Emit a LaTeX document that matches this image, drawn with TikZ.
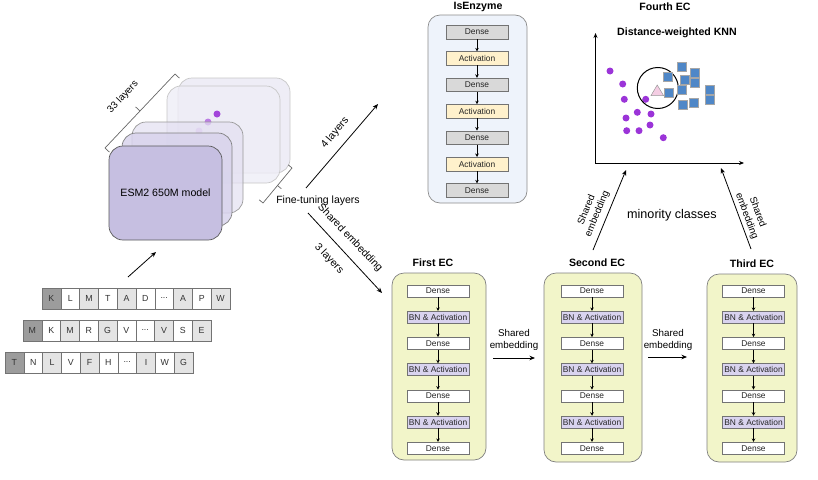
\documentclass[tikz,border=0pt]{standalone}
\usepackage{fontspec}
\setmainfont{Liberation Sans}
\usetikzlibrary{arrows.meta,calc}
\definecolor{cd}{HTML}{9C9C9C}
\definecolor{cw}{HTML}{FFFFFF}
\definecolor{cg}{HTML}{E4E4E4}
\definecolor{dns}{HTML}{D9D9D9}
\definecolor{act}{HTML}{FFF1CC}
\definecolor{bn}{HTML}{D9D3EF}
\definecolor{ecfill}{HTML}{F2F5C9}
\definecolor{iefill}{HTML}{EEF3FB}
\definecolor{dotc}{HTML}{9B34D8}
\definecolor{sqc}{HTML}{4F87C7}
\definecolor{triC}{HTML}{F4CDE3}
\definecolor{stk1}{HTML}{C6BFE1}
\definecolor{stk2}{HTML}{D8D3EC}
\definecolor{stk3}{HTML}{E3DFF1}
\definecolor{stkb}{HTML}{EEEDF6}
\begin{document}
\begin{tikzpicture}[x=1pt,y=-1pt,
  lbl/.style={font=\fontsize{10.5}{12}\selectfont, inner sep=0pt},
  slbl/.style={font=\fontsize{9.8}{11.5}\selectfont, inner sep=0pt},
  ttl/.style={font=\fontsize{10.6}{12}\selectfont\bfseries, inner sep=0pt},
  cell/.style={draw=black!55, line width=0.6pt, minimum width=18.8pt, minimum height=21pt, inner sep=0pt, font=\fontsize{8.8}{10}\selectfont, text=black!80},
  ibox/.style={draw=black!55, line width=0.5pt, minimum width=62pt, minimum height=12pt, inner sep=0pt, font=\fontsize{8.4}{9}\selectfont, text=black!85},
  iebox/.style={ibox, minimum height=13.5pt},
  iarr/.style={-{Stealth[length=3.5pt,width=3.5pt]}, line width=0.6pt},
  arr/.style={-{Stealth[length=5.5pt,width=4.5pt]}, line width=0.8pt},
  ecbox/.style={draw=black!50, line width=0.7pt, fill=ecfill, rounded corners=12pt, inner sep=0pt},
  stk/.style={rounded corners=14pt, line width=0.7pt, inner sep=0pt},
  brk/.style={line width=0.7pt, black!60},
  dot/.style={circle, fill=dotc, minimum size=7pt, inner sep=0pt},
  sq/.style={draw=black!35, fill=sqc, minimum size=9pt, inner sep=0pt, line width=0.4pt}
]
\useasboundingbox (0,0) rectangle (818,479);

% ---------- ESM2 stack ----------
\node[stk, draw=black!22, fill=stkb, minimum width=112pt, minimum height=95pt] (b1) at (234,125.5) {};
\node[stk, draw=black!22, fill=stkb, fill opacity=0.8, minimum width=113pt, minimum height=97pt] (b2) at (223.5,134.5) {};
\node[dot, opacity=0.9] (d1) at (217,114) {};
\node[dot, opacity=0.6] (d2) at (208,122) {};
\node[dot, opacity=0.25] (d3) at (199,131) {};
\node[stk, draw=black!40, fill=stk3, fill opacity=0.7, minimum width=111pt, minimum height=91pt] (l3) at (187.5,167.5) {};
\node[stk, draw=black!50, fill=stk2, fill opacity=0.85, minimum width=110pt, minimum height=93pt] (l2) at (177,179.5) {};
\node[stk, draw=black!65, fill=stk1, minimum width=113pt, minimum height=94pt, font=\fontsize{10.6}{12}\selectfont] (l1) at (165.5,193) {ESM2 650M model};

% 33 layers bracket
\coordinate (ba) at (105,148);
\coordinate (bb) at (175,74);
\coordinate (bm) at (140,111);
\draw[brk] ($(ba)+(4.4,4.1)$) -- (ba) -- (bb) -- ($(bb)+(4.4,4.1)$);
\draw[brk] (bm) -- ($(bm)+(-4.4,-4.1)$);
\node[slbl, rotate=46.6] (l33) at (123,97) {33 layers};

% fine-tuning bracket
\coordinate (fa) at (263,203);
\coordinate (fb) at (292,168);
\coordinate (fm) at (277.5,185.5);
\draw[brk] ($(fa)+(-3.8,-3.2)$) -- (fa) -- (fb) -- ($(fb)+(-3.8,-3.2)$);
\draw[brk] (fm) -- ($(fm)+(3.8,3.2)$);
\node[lbl] (ft) at (318,201) {Fine-tuning layers};

% arrows to heads
\coordinate (a4s) at (306,188);
\coordinate (a4e) at (378,104);
\draw[arr] (a4s) -- (a4e);
\node[lbl, rotate=50] (l4) at (335,133) {4 layers};
\coordinate (a3s) at (308,213);
\coordinate (a3e) at (382,293);
\draw[arr] (a3s) -- (a3e);
\node[lbl, rotate=-46.5] (lse) at (350,238) {Shared embedding};
\node[lbl, rotate=-46.5] (l3l) at (329,259) {3 layers};

% ---------- sequences ----------
\foreach \l/\s [count=\i from 0] in {K/cd,L/cw,M/cg,T/cw,A/cg,D/cw,{...}/cw,A/cg,P/cw,W/cg}
  \node[cell, fill=\s] (ra\i) at ({51.4+18.8*\i},298.5) {\l};
\foreach \l/\s [count=\i from 0] in {M/cd,K/cw,M/cg,R/cw,G/cg,V/cw,{...}/cw,V/cg,S/cw,E/cg}
  \node[cell, fill=\s] (rb\i) at ({32.4+18.8*\i},330.5) {\l};
\foreach \l/\s [count=\i from 0] in {T/cd,N/cw,L/cg,V/cw,F/cg,H/cw,{...}/cw,I/cg,W/cw,G/cg}
  \node[cell, fill=\s] (rc\i) at ({14.4+18.8*\i},362.5) {\l};
\coordinate (sqs) at (128,277);
\coordinate (sqe) at (156,252);
\draw[arr] (sqs) -- (sqe);

% ---------- IsEnzyme ----------
\node[draw=black!45, line width=0.7pt, fill=iefill, rounded corners=12pt, minimum width=99pt, minimum height=188pt, inner sep=0pt] (ie) at (477.5,109) {};
\node[ttl] (iet) at (478,7) {IsEnzyme};
\foreach \t/\s [count=\i from 0] in {Dense/dns,Activation/act,Dense/dns,Activation/act,Dense/dns,Activation/act,Dense/dns}
  \node[iebox, fill=\s] (ie\i) at (477,{32+26.4*\i}) {\t};
\foreach \i [evaluate=\i as \j using int(\i+1)] in {0,...,5}
  \draw[iarr] (ie\i.south) -- (ie\j.north);

% ---------- EC boxes ----------
\node[ecbox, minimum width=94pt, minimum height=187pt] (ec1) at (439,366.5) {};
\node[ecbox, minimum width=98pt, minimum height=189pt] (ec2) at (593,367.5) {};
\node[ecbox, minimum width=90pt, minimum height=188pt] (ec3) at (752,368) {};
\node[ttl] (ec1t) at (433,263) {First EC};
\node[ttl] (ec2t) at (597,263) {Second EC};
\node[ttl] (ec3t) at (752,264) {Third EC};
\foreach \x/\n in {438/a,592/b,753.5/c}{
  \foreach \t/\s [count=\i from 0] in {Dense/cw,BN \& Activation/bn,Dense/cw,BN \& Activation/bn,Dense/cw,BN \& Activation/bn,Dense/cw}
    \node[ibox, fill=\s] (e\n\i) at (\x,{291+26.2*\i}) {\t};
  \foreach \i [evaluate=\i as \j using int(\i+1)] in {0,...,5}
    \draw[iarr] (e\n\i.south) -- (e\n\j.north);
}

% shared embedding between EC boxes
\node[slbl, align=center] (s12) at (514,340) {Shared\\embedding};
\coordinate (s12a) at (493,358);
\coordinate (s12b) at (535,358);
\draw[arr] (s12a) -- (s12b);
\node[slbl, align=center] (s23) at (668,340) {Shared\\embedding};
\coordinate (s23a) at (648,357);
\coordinate (s23b) at (687,357);
\draw[arr] (s23a) -- (s23b);

% ---------- Fourth EC ----------
\node[ttl] (f4t) at (665,7) {Fourth EC};
\node[ttl] (knnt) at (677,33) {Distance-weighted KNN};
\coordinate (ytop) at (595.5,33);
\coordinate (orig) at (595.5,163);
\coordinate (xend) at (744,163);
\draw[{Stealth[length=5pt,width=4pt]}-{Stealth[length=5pt,width=4pt]}, line width=1pt] (ytop) -- (orig) -- (xend);
\foreach \p [count=\i] in {(610,71),(622.7,84),(624.3,99.3),(645.7,99.3),(626,118),(637.3,112.3),(651,114),(626.7,130.7),(639,130.7),(650,125),(663.3,137.7)}
  \node[dot] (pd\i) at \p {};
\node[circle, draw=black, line width=1pt, minimum size=41pt, inner sep=0pt] (kc) at (657.8,88) {};
\draw[draw=black!40, fill=triC, line width=0.5pt] (651,95.5) -- (663.5,95.5) -- (657.2,85) -- cycle;
\foreach \p [count=\i] in {(681.7,66.7),(695,72.3),(667.7,76.7),(685,79.3),(695,82.7),(669,92.3),(681.7,90),(709.3,89.3),(709.3,99.3),(694,102.7),(682.3,105)}
  \node[sq] (ps\i) at \p {};

% arrows to fourth EC
\coordinate (k1s) at (593,250);
\coordinate (k1e) at (626,170);
\draw[arr] (k1s) -- (k1e);
\node[slbl, rotate=67.6, align=center] (k1l) at (592,212) {Shared\\embedding};
\coordinate (k2s) at (751,249);
\coordinate (k2e) at (721,168);
\draw[arr] (k2s) -- (k2e);
\node[slbl, rotate=-69.7, align=center] (k2l) at (752,214) {Shared\\embedding};
\node[font=\fontsize{12.6}{14}\selectfont, inner sep=0pt] (mc) at (672,215) {minority classes};
\end{tikzpicture}
\end{document}
